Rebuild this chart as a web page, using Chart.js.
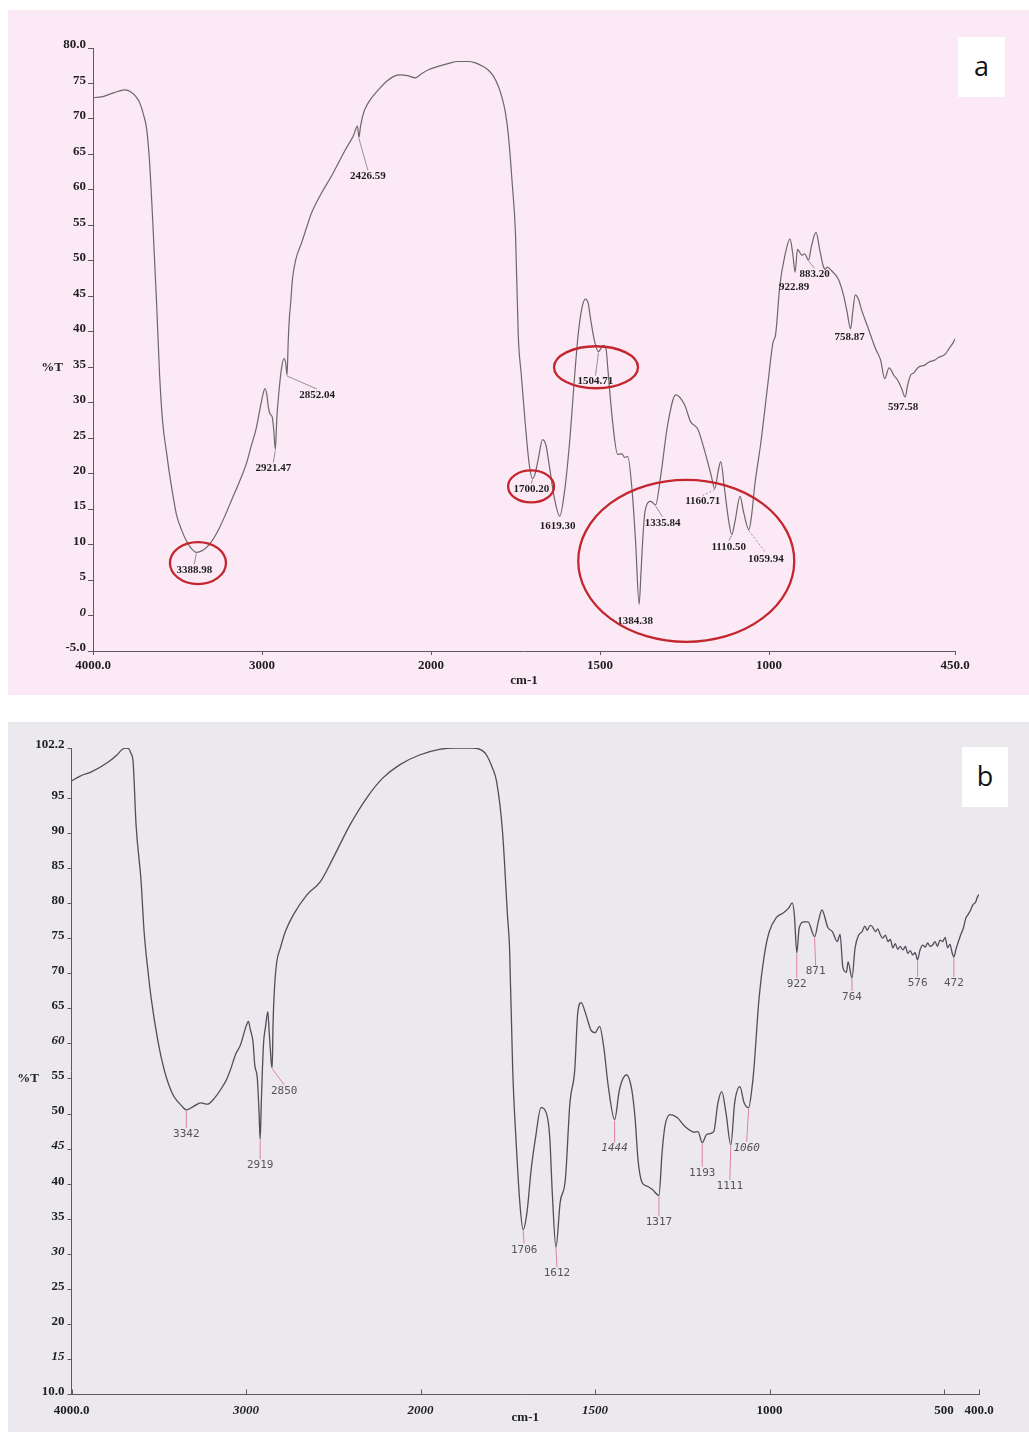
<!DOCTYPE html>
<html>
<head>
<meta charset="utf-8">
<title>FTIR spectra</title>
<script src="https://cdn.jsdelivr.net/npm/chart.js@4.4.1/dist/chart.umd.min.js"></script>
<style>
  html, body { margin: 0; padding: 0; background: #ffffff; }
  body { width: 1029px; height: 1432px; position: relative; overflow: hidden; }
  .panel { position: absolute; }
  .panel canvas { position: absolute; left: 0; top: 0; }
  #panelA { left: 8px; top: 10px; width: 1021px; height: 685px; background: #fbe9f5; }
  #panelB { left: 8px; top: 722px; width: 1021px; height: 710px; background: #ebe8ee; }
  .tag { position: absolute; background: #ffffff; color: #111; text-align: center;
         font-family: "Open Sans", "Liberation Sans", sans-serif; font-size: 27px; }
  #tagA { left: 950px; top: 27px; width: 47px; height: 60px; line-height: 58px; }
  #tagB { left: 954px; top: 25px; width: 46px; height: 60px; line-height: 58px; }
</style>
</head>
<body>
<div class="panel" id="panelA">
  <canvas id="chartA" width="1021" height="685"></canvas>
  <div class="tag" id="tagA">a</div>
</div>
<div class="panel" id="panelB">
  <canvas id="chartB" width="1021" height="710"></canvas>
  <div class="tag" id="tagB">b</div>
</div>
<script>
// ---------- Spectrum (a) ----------
const aWavenumber = [
  4000, 3950, 3900, 3850, 3812, 3775, 3745, 3724, 3700, 3682, 3665, 3647, 3624, 3606, 3588, 3565,
  3547, 3526, 3506, 3475, 3447, 3420, 3388.98, 3350, 3312, 3283, 3253, 3215, 3176, 3135, 3094, 3065,
  3035, 3005, 2990, 2982, 2972, 2962, 2952, 2940, 2930, 2921.47, 2912, 2900, 2885, 2870, 2860, 2852.04,
  2845, 2838, 2830, 2820, 2800, 2765, 2735, 2706, 2647, 2588, 2506, 2460, 2435, 2426.59, 2418, 2400,
  2371, 2312, 2253, 2210, 2182, 2140, 2094, 2060, 2018, 1979, 1950, 1920, 1890, 1869, 1850, 1831,
  1815, 1801, 1790, 1780, 1771, 1760, 1750, 1742, 1733, 1721, 1710, 1700.2, 1692, 1683, 1670, 1660,
  1652, 1635, 1619.3, 1605, 1590, 1575, 1565, 1553, 1543, 1535, 1528, 1516, 1504.71, 1498, 1490, 1482,
  1477, 1462, 1448, 1435, 1428, 1418, 1405, 1395, 1384.38, 1379, 1374, 1367, 1350, 1335.84, 1320, 1300,
  1276, 1250, 1232, 1211, 1190, 1172, 1160.71, 1150, 1143, 1132, 1120, 1110.5, 1100, 1086, 1075, 1059.94,
  1052, 1042, 1024, 1003, 988, 981, 968, 953, 938, 930, 922.89, 916, 903, 895, 883.2, 875,
  861, 850, 840, 834, 828, 815, 795, 780, 770, 758.87, 752, 745, 735, 727, 706, 685,
  670, 658, 645, 630, 620, 608, 597.58, 590, 581, 572, 558, 540, 528, 510, 498, 480,
  468, 455, 450
];
const aTransmittance = [
  73.0, 73.1, 73.5, 73.9, 74.1, 73.8, 73.1, 72.3, 70.5, 68.5, 63.8, 55.8, 44.2, 33.9, 27.3, 23.0,
  19.9, 16.8, 14.2, 12.0, 10.5, 9.5, 8.9, 9.2, 10.0, 11.0, 12.3, 14.3, 16.5, 18.8, 21.3, 23.8,
  26.3, 30.0, 31.6, 32.0, 31.2, 29.3, 28.4, 28.0, 26.0, 23.4, 28.0, 31.5, 34.8, 36.2, 35.6, 33.9,
  38.6, 42.0, 44.2, 47.4, 50.2, 52.6, 54.8, 56.8, 59.6, 62.0, 65.7, 67.6, 69.0, 67.4, 68.8, 70.8,
  72.3, 74.1, 75.5, 76.1, 76.2, 76.1, 75.8, 76.3, 76.9, 77.4, 77.8, 78.1, 78.1, 77.9, 77.5, 76.9,
  76.0, 74.6, 73.0, 70.9, 67.6, 61.0, 53.6, 39.5, 33.9, 26.9, 21.5, 19.3, 20.0, 22.0, 24.8, 24.0,
  21.7, 16.5, 14.0, 17.5, 24.5, 33.9, 39.5, 43.5, 44.6, 44.0, 41.8, 38.6, 37.2, 37.6, 38.1, 37.5,
  34.8, 26.9, 22.7, 22.8, 22.3, 22.4, 17.5, 10.5, 1.6, 6.0, 10.5, 14.7, 16.1, 15.6, 19.9, 26.9,
  31.1, 29.7, 27.3, 26.3, 23.1, 19.9, 17.9, 20.5, 21.7, 17.9, 13.5, 11.4, 13.5, 16.8, 14.5, 12.1,
  14.0, 18.5, 24.5, 32.9, 38.6, 39.5, 46.6, 50.8, 53.1, 51.0, 48.4, 51.6, 50.8, 51.0, 50.1, 52.0,
  54.0, 51.5, 49.3, 48.8, 49.1, 48.6, 47.4, 45.2, 43.0, 40.4, 43.0, 45.2, 44.5, 43.2, 40.4, 37.6,
  36.0, 33.4, 34.9, 33.8, 33.2, 32.0, 30.8, 32.5, 33.9, 34.2, 35.0, 35.3, 35.7, 36.0, 36.4, 36.8,
  37.6, 38.5, 39.0
];
const aXTicks = [4000, 3000, 2000, 1500, 1000, 450];
const aXTickLabels = ['4000.0', '3000', '2000', '1500', '1000', '450.0'];
const aYTicks = [80, 75, 70, 65, 60, 55, 50, 45, 40, 35, 30, 25, 20, 15, 10, 5, 0, -5];
const aYTickLabels = ['80.0', '75', '70', '65', '60', '55', '50', '45', '40', '35', '30', '25', '20', '15', '10', '5', '0', '-5.0'];
const aPeaks = [3388.98, 2921.47, 2852.04, 2426.59, 1700.20, 1619.30, 1504.71, 1384.38,
                1335.84, 1160.71, 1110.50, 1059.94, 922.89, 883.20, 758.87, 597.58];

// ---------- Spectrum (b) ----------
const bWavenumber = [
  4000, 3950, 3886, 3789, 3740, 3710, 3690, 3672, 3660, 3647, 3630, 3601, 3584, 3560, 3544, 3504,
  3470, 3440, 3413, 3370, 3342, 3300, 3259, 3220, 3190, 3145, 3110, 3088, 3060, 3031, 3000, 2986,
  2975, 2960, 2950, 2935, 2925, 2919, 2912, 2900, 2888, 2875, 2868, 2860, 2855, 2850, 2845, 2838,
  2825, 2803, 2775, 2729, 2650, 2575, 2501, 2405, 2308, 2217, 2120, 2006, 1946, 1900, 1851, 1825,
  1811, 1795, 1782, 1765, 1751, 1745, 1736, 1725, 1715, 1706, 1695, 1683, 1670, 1655, 1640, 1630,
  1622, 1612, 1600, 1585, 1572, 1558, 1550, 1540, 1525, 1512, 1500, 1487, 1475, 1462, 1444, 1430,
  1410, 1395, 1385, 1377, 1365, 1350, 1335, 1317, 1308, 1300, 1285, 1265, 1240, 1215, 1205, 1193,
  1180, 1160, 1148, 1137, 1125, 1111, 1100, 1085, 1073, 1060, 1050, 1045, 1030, 1015, 1001, 981,
  960, 945, 935, 929, 922, 915, 900, 890, 871, 860, 850, 833, 820, 806, 798, 790,
  780, 775, 764, 755, 745, 735, 727, 720, 712, 705, 697, 690, 683, 676, 668, 661,
  654, 647, 640, 633, 626, 618, 611, 604, 597, 590, 583, 576, 569, 561, 554, 547,
  540, 533, 526, 519, 512, 504, 497, 490, 483, 477, 472, 466, 459, 452, 445, 438,
  432, 425, 418, 410, 404, 400
];
const bTransmittance = [
  97.5, 98.2, 98.8, 100.2, 101.2, 102.0, 102.2, 102.1, 101.5, 100.2, 91.2, 83.1, 76.0, 70.0, 66.6, 60.3,
  56.4, 54.0, 52.5, 51.2, 50.6, 51.1, 51.6, 51.4, 52.0, 53.5, 55.0, 56.4, 58.5, 59.9, 62.5, 63.2,
  62.0, 60.3, 57.0, 55.0, 50.0, 46.4, 52.0, 59.9, 62.5, 64.6, 62.0, 59.0, 57.2, 56.6, 63.0, 67.4,
  71.5, 73.7, 76.0, 78.4, 81.3, 83.1, 86.5, 91.2, 95.1, 97.9, 99.8, 101.2, 102.0, 102.2, 102.2, 101.9,
  101.2, 99.5, 97.4, 90.2, 78.4, 73.7, 56.4, 45.0, 37.0, 33.5, 36.0, 42.1, 46.8, 50.9, 50.2, 46.8,
  38.2, 31.0, 37.4, 40.7, 51.6, 56.4, 64.2, 65.9, 64.0, 62.0, 61.6, 62.5, 59.5, 53.9, 49.2, 53.5,
  55.6, 53.5, 49.2, 43.5, 40.2, 39.7, 39.2, 38.4, 44.5, 48.2, 49.9, 49.5, 48.1, 47.4, 47.5, 45.9,
  47.1, 47.5, 51.6, 53.2, 50.2, 45.6, 51.6, 53.9, 51.6, 50.9, 53.9, 56.4, 66.6, 72.7, 76.0, 78.0,
  78.7, 79.4, 80.1, 78.4, 73.0, 76.6, 77.4, 77.4, 75.3, 77.5, 79.1, 76.6, 76.0, 74.6, 75.6, 70.9,
  70.2, 71.7, 69.4, 73.7, 75.5, 76.0, 76.8, 76.2, 76.9, 76.7, 76.0, 76.4, 75.6, 75.1, 75.5, 74.6,
  74.9, 73.7, 74.3, 73.5, 73.9, 73.4, 73.9, 72.9, 73.3, 72.7, 73.0, 72.0, 73.4, 74.1, 73.8, 74.4,
  73.9, 74.1, 74.6, 73.9, 74.8, 74.6, 75.2, 73.7, 74.2, 73.0, 72.4, 73.5, 74.6, 75.6, 76.5, 77.9,
  78.4, 79.0, 79.8, 80.2, 81.0, 81.3
];
const bXTicks = [4000, 3000, 2000, 1500, 1000, 500, 400];
const bXTickLabels = ['4000.0', '3000', '2000', '1500', '1000', '500', '400.0'];
const bYTicks = [102.2, 95, 90, 85, 80, 75, 70, 65, 60, 55, 50, 45, 40, 35, 30, 25, 20, 15, 10];
const bYTickLabels = ['102.2', '95', '90', '85', '80', '75', '70', '65', '60', '55', '50', '45', '40', '35', '30', '25', '20', '15', '10.0'];
const bPeaks = [3342, 2919, 2850, 1706, 1612, 1444, 1317, 1193, 1111, 1060, 922, 871, 764, 576, 472];

// ---------- Label placement (pixel offsets from the band on the curve) ----------
// [dx, dy, leader line style, italic]
const aPeakPlacement = [
  [-2, 18, 'solid'], [-2, 19, 'solid'], [30, 20, 'solid'], [9, 39, 'solid'],
  [-1, 11, 'solid'], [-2, 10, null], [-3, 30, 'solid'], [-4, 17, null],
  [7, 18, 'solid'], [-12, 13, 'dash'], [-3, 12, 'solid'], [17, 29, 'dash'],
  [-1, 15, null], [6, 14, 'solid'], [-1, 8, null], [-2, 10, null]
];
const bPeakPlacement = [
  [0, 24, 'solid'], [0, 26, 'solid'], [12, 23, 'solid'], [1, 20, 'solid'],
  [1, 26, 'solid'], [0, 29, 'solid', true], [0, 27, 'solid'], [0, 30, 'solid'],
  [-1, 41, 'solid'], [-2, 40, 'solid', true], [0, 31, 'solid'], [1, 35, 'solid'],
  [0, 19, 'solid'], [0, 23, 'solid'], [0, 26, 'solid']
];
// Red rings around the discussed bands of spectrum (a): centre in axis units, radii in px
const aRings = [
  { w: 3379, t: 7.4, rx: 28, ry: 21 },
  { w: 1704, t: 18.2, rx: 23, ry: 16 },
  { w: 1512, t: 35.0, rx: 42, ry: 21 },
  { w: 1245, t: 7.7, rx: 108, ry: 81 }
];

const SERIF = '"Liberation Serif", "Times New Roman", serif';
const MONO = '"DejaVu Sans Mono", "Liberation Mono", monospace';

// Wavenumber axis: reversed, with the region below 2000 cm-1 drawn at double scale.
class WavenumberScale extends Chart.LinearScale {
  static id = 'wavenumber';
  _toDecimal(v) {
    const min = this.min, max = this.max, brk = 2000, k = 2;
    const total = k * (brk - min) + (max - brk);
    return v < brk ? k * (v - min) / total : (k * (brk - min) + (v - brk)) / total;
  }
  getPixelForValue(value) {
    if (value === null || value === undefined) return NaN;
    return this.getPixelForDecimal(this._toDecimal(value));
  }
  getValueForPixel(pixel) {
    const min = this.min, max = this.max, brk = 2000, k = 2;
    const total = k * (brk - min) + (max - brk);
    const t = this.getDecimalForPixel(pixel) * total;
    return t < k * (brk - min) ? min + t / k : brk + (t - k * (brk - min));
  }
}
Chart.register(WavenumberScale);

function valueAt(ws, ts, w) {
  for (let i = 0; i < ws.length - 1; i++) {
    if (w <= ws[i] && w >= ws[i + 1]) {
      const f = (ws[i] - w) / (ws[i] - ws[i + 1]);
      return ts[i] + f * (ts[i + 1] - ts[i]);
    }
  }
  return ts[ts.length - 1];
}

// Band labels with leader lines, ring highlights, the horizontal "%T" title and inward x ticks.
function spectrumDecorations(cfg) {
  return {
    id: 'spectrumDecorations',
    afterDraw(chart) {
      const { ctx, chartArea, scales: { x, y } } = chart;
      ctx.save();
      cfg.peaks.forEach((w, i) => {
        const [dx, dy, lead, italic] = cfg.placement[i];
        const px = x.getPixelForValue(w);
        const py = y.getPixelForValue(valueAt(cfg.ws, cfg.ts, w));
        const lx = px + dx, ly = py + dy;
        if (lead) {
          ctx.beginPath();
          ctx.strokeStyle = cfg.leadColor;
          ctx.lineWidth = cfg.leadWidth;
          ctx.setLineDash(lead === 'dash' ? [2, 2] : []);
          ctx.moveTo(px, py + 1);
          ctx.lineTo(lx, ly - cfg.halfText);
          ctx.stroke();
        }
        ctx.setLineDash([]);
        ctx.font = (italic ? 'italic ' : '') + cfg.labelFont;
        ctx.fillStyle = cfg.labelColor;
        ctx.textAlign = 'center';
        ctx.textBaseline = 'middle';
        ctx.fillText(cfg.format(w), lx, ly);
      });
      (cfg.rings || []).forEach(r => {
        ctx.beginPath();
        ctx.strokeStyle = '#c3262e';
        ctx.lineWidth = 2.3;
        ctx.ellipse(x.getPixelForValue(r.w), y.getPixelForValue(r.t), r.rx, r.ry, 0, 0, Math.PI * 2);
        ctx.stroke();
      });
      if (cfg.inwardTicks) {
        ctx.beginPath();
        ctx.strokeStyle = cfg.axisColor;
        ctx.lineWidth = 1;
        x.ticks.forEach(t => {
          const px = Math.round(x.getPixelForValue(t.value)) + 0.5;
          ctx.moveTo(px, chartArea.bottom);
          ctx.lineTo(px, chartArea.bottom - 5);
        });
        ctx.stroke();
      }
      ctx.font = 'bold 13px ' + SERIF;
      ctx.fillStyle = '#222';
      ctx.textAlign = 'center';
      ctx.textBaseline = 'middle';
      ctx.fillText('%T', chartArea.left - cfg.yTitleGap, y.getPixelForValue(cfg.yTitleAt));
      ctx.restore();
    }
  };
}

function buildChart(canvasId, p) {
  const points = p.ws.map((w, i) => ({ x: w, y: p.ts[i] }));
  return new Chart(document.getElementById(canvasId), {
    type: 'line',
    data: {
      datasets: [{
        data: points,
        borderColor: p.lineColor,
        borderWidth: p.lineWidth,
        pointRadius: 0,
        fill: false,
        tension: 0.4,
        cubicInterpolationMode: 'monotone'
      }]
    },
    options: {
      responsive: false,
      animation: false,
      events: [],
      layout: { padding: p.padding },
      plugins: { legend: { display: false }, tooltip: { enabled: false } },
      scales: {
        x: {
          type: 'wavenumber',
          reverse: true,
          min: p.xMin,
          max: 4000,
          afterFit: s => { s.height = p.xHeight; },
          afterBuildTicks: s => { s.ticks = p.xTicks.map(v => ({ value: v })); },
          border: { display: true, color: p.axisColor, width: 1 },
          grid: { drawOnChartArea: false, drawTicks: !p.inwardTicks, tickLength: 4, color: p.axisColor },
          ticks: {
            autoSkip: false,
            maxRotation: 0,
            padding: p.xTickPad,
            color: '#1e1e1e',
            font: ctx => ({ family: SERIF, size: 13, weight: 'bold',
                            style: p.italicX.includes(ctx.tick && ctx.tick.value) ? 'italic' : 'normal' }),
            callback: (v, i) => p.xTickLabels[i]
          },
          title: {
            display: true, text: 'cm-1', color: '#1e1e1e',
            font: { family: SERIF, size: 13, weight: 'bold' },
            padding: { top: 0, bottom: p.xTitlePad }
          }
        },
        y: {
          type: 'linear',
          min: p.yMin,
          max: p.yMax,
          afterFit: s => { s.width = p.yWidth; },
          afterBuildTicks: s => { s.ticks = p.yTicks.map(v => ({ value: v })); },
          border: { display: true, color: p.axisColor, width: 1 },
          grid: { drawOnChartArea: false, drawTicks: true, tickLength: p.yTickLen, color: p.axisColor },
          ticks: {
            autoSkip: false,
            padding: p.yTickPad,
            labelOffset: -3,
            color: '#1e1e1e',
            font: ctx => ({ family: SERIF, size: 13, weight: 'bold',
                            style: p.italicY.includes(ctx.tick && ctx.tick.value) ? 'italic' : 'normal' }),
            callback: (v, i) => p.yTickLabels[i]
          }
        }
      }
    },
    plugins: [spectrumDecorations({
      ws: p.ws, ts: p.ts, peaks: p.peaks, placement: p.placement, format: p.format,
      labelFont: p.labelFont, labelColor: p.labelColor, leadColor: p.leadColor, leadWidth: p.leadWidth,
      halfText: 6, rings: p.rings, inwardTicks: p.inwardTicks, axisColor: p.axisColor,
      yTitleAt: p.yTitleAt, yTitleGap: p.yTitleGap
    })]
  });
}

buildChart('chartA', {
  ws: aWavenumber, ts: aTransmittance, peaks: aPeaks, placement: aPeakPlacement, rings: aRings,
  format: w => w.toFixed(2),
  xMin: 450, yMin: -5, yMax: 80,
  xTicks: aXTicks, xTickLabels: aXTickLabels, yTicks: aYTicks, yTickLabels: aYTickLabels,
  italicX: [], italicY: [0],
  padding: { left: 0, top: 38, right: 74, bottom: 0 },
  yWidth: 85, xHeight: 44, xTickPad: 3, xTitlePad: 7, yTickLen: 5, yTickPad: 2,
  axisColor: '#5e5a5d', lineColor: '#6b6869', lineWidth: 1.2, inwardTicks: false,
  labelFont: 'bold 11px ' + SERIF, labelColor: '#1e1e1e', leadColor: '#7d7a7c', leadWidth: 0.8,
  yTitleAt: 35, yTitleGap: 41
});

buildChart('chartB', {
  ws: bWavenumber, ts: bTransmittance, peaks: bPeaks, placement: bPeakPlacement, rings: [],
  format: w => String(w),
  xMin: 400, yMin: 10, yMax: 102.2,
  xTicks: bXTicks, xTickLabels: bXTickLabels, yTicks: bYTicks, yTickLabels: bYTickLabels,
  italicX: [3000, 2000, 1500], italicY: [60, 45, 30, 15],
  padding: { left: 0, top: 26, right: 50, bottom: 0 },
  yWidth: 63.5, xHeight: 37.5, xTickPad: 8, xTitlePad: 7, yTickLen: 4, yTickPad: 3,
  axisColor: '#5d5862', lineColor: '#524d58', lineWidth: 1.3, inwardTicks: true,
  labelFont: '11px ' + MONO, labelColor: '#57535a', leadColor: '#e0829b', leadWidth: 1,
  yTitleAt: 55, yTitleGap: 43.5
});
</script>
</body>
</html>
